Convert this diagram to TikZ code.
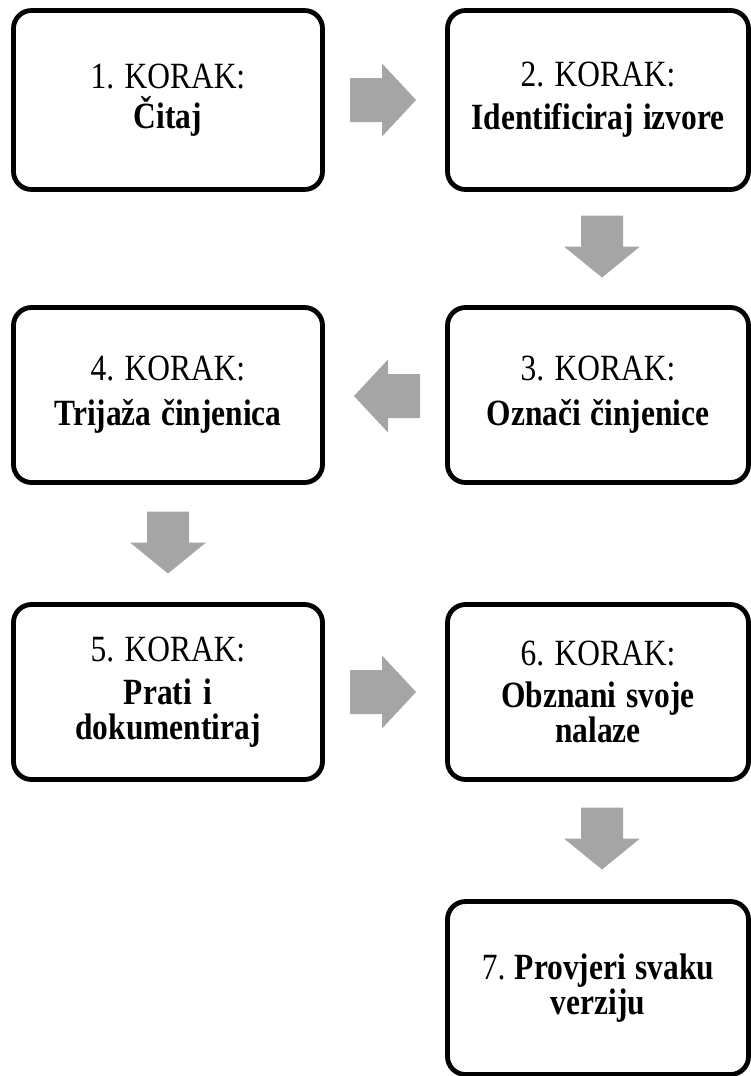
\documentclass[tikz,border=0pt]{standalone}
\usepackage{fontspec}
\setmainfont{Liberation Serif}[FakeStretch=0.85]
\usetikzlibrary{calc}
\definecolor{arrowgray}{HTML}{A5A5A5}
\newcommand\tightsp{\frenchspacing\spaceskip=8.5pt plus 2pt minus 1pt\relax}
\tikzset{
  stepbox/.style={draw=black, line width=4.8pt, rounded corners=18pt, fill=white,
    align=center, inner sep=0pt, text width=295pt,
    font=\fontsize{37}{35}\selectfont, execute at begin node=\tightsp},
  leftbox/.style={stepbox, minimum width=309pt},
  rightbox/.style={stepbox, minimum width=301pt},
  harrow/.pic={\fill[arrowgray] (-33,-22)--(-1,-22)--(-1,-36.5)--(33,0)--(-1,36.5)--(-1,22)--(-33,22)--cycle;},
  varrow/.pic={\fill[arrowgray] (-31,-21)--(0,-21)--(0,-38)--(31,0)--(0,38)--(0,21)--(-31,21)--cycle;}
}
\begin{document}
\begin{tikzpicture}[x=1pt,y=-1pt]
\useasboundingbox (0,0) rectangle (751,1076);
\node[leftbox, minimum height=179pt] (b1) at (168,100) {1. KORAK:\\[5pt]\textbf{Čitaj}};
\node[rightbox, minimum height=179pt] (b2) at (598,100) {2. KORAK:\\[8pt]\textbf{Identificiraj izvore}};
\node[rightbox, minimum height=175pt] (b3) at (598,395) {3. KORAK:\\[10pt]\textbf{Označi činjenice}};
\node[leftbox, minimum height=175pt] (b4) at (168,395) {4. KORAK:\\[10pt]\textbf{Trijaža činjenica}};
\node[leftbox, minimum height=175pt] (b5) at (168,692) {5. KORAK:\\[8pt]\textbf{Prati i}\\\textbf{dokumentiraj}};
\node[rightbox, minimum height=175pt] (b6) at (598,692) {6. KORAK:\\[7pt]\textbf{Obznani svoje}\\\textbf{nalaze}};
\node[rightbox, minimum height=173pt] (b7) at (598,988) {7. \textbf{Provjeri svaku}\\\textbf{verziju}};
\path ($(b1.east)!0.5!(b2.west)+(-2,0)$) pic {harrow};
\path ($(b2.south)!0.5!(b3.north)+(4,-2)$) pic[rotate=-90] {varrow};
\path ($(b3.west)!0.5!(b4.east)+(2,1)$) pic[rotate=180] {harrow};
\path ($(b4.south)!0.5!(b5.north)+(0,-1)$) pic[rotate=-90] {varrow};
\path ($(b5.east)!0.5!(b6.west)+(-2,0)$) pic {harrow};
\path ($(b6.south)!0.5!(b7.north)+(4,-2)$) pic[rotate=-90] {varrow};
\end{tikzpicture}
\end{document}
